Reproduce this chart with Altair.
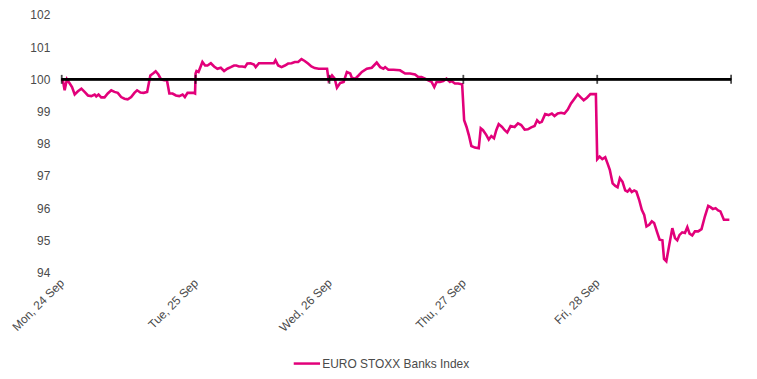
import altair as alt
import pandas as pd

SERIES = "EURO STOXX Banks Index"
day_labels = ["Mon, 24 Sep", "Tue, 25 Sep", "Wed, 26 Sep", "Thu, 27 Sep", "Fri, 28 Sep"]
y_ticks = [94, 95, 96, 97, 98, 99, 100, 101, 102]
day_ticks = [0, 1, 2, 3, 4, 5]

# time in trading days since Mon open, index value
mon_t = [0.0, 0.010, 0.022, 0.039, 0.060, 0.077, 0.097, 0.121, 0.147, 0.171, 0.196, 0.221, 0.246, 0.258,
         0.275, 0.295, 0.320, 0.344, 0.370, 0.394, 0.419, 0.444, 0.469, 0.493, 0.519, 0.543, 0.563, 0.588,
         0.612, 0.638, 0.662, 0.682, 0.702, 0.722, 0.742, 0.766, 0.786, 0.804, 0.828, 0.853, 0.878, 0.903,
         0.920, 0.940, 0.965, 0.984, 0.996]
mon_v = [100.0, 99.94, 99.66, 100.0, 99.87, 99.76, 99.53, 99.63, 99.71, 99.61, 99.50, 99.48, 99.53, 99.47,
         99.53, 99.44, 99.44, 99.56, 99.66, 99.61, 99.58, 99.45, 99.40, 99.38, 99.45, 99.58, 99.66, 99.59,
         99.58, 99.61, 100.12, 100.18, 100.25, 100.15, 100.00, 99.97, 99.97, 99.56, 99.56, 99.50, 99.48, 99.53,
         99.45, 99.58, 99.58, 99.58, 99.56]

tue_t = [1.0, 1.007, 1.022, 1.051, 1.071, 1.089, 1.114, 1.138, 1.163, 1.188, 1.213, 1.237, 1.263, 1.287,
         1.304, 1.324, 1.349, 1.369, 1.386, 1.411, 1.436, 1.449, 1.473, 1.498, 1.535, 1.560, 1.585, 1.597,
         1.617, 1.642, 1.667, 1.691, 1.717, 1.741, 1.766, 1.791, 1.815, 1.840, 1.865, 1.890, 1.920, 1.944,
         1.974, 1.982]
tue_v = [100.18, 100.26, 100.23, 100.54, 100.43, 100.43, 100.50, 100.40, 100.33, 100.36, 100.26, 100.33, 100.38, 100.43,
         100.43, 100.40, 100.40, 100.38, 100.49, 100.50, 100.46, 100.38, 100.50, 100.50, 100.50, 100.50, 100.50, 100.59,
         100.43, 100.38, 100.43, 100.49, 100.50, 100.54, 100.54, 100.63, 100.57, 100.49, 100.40, 100.35, 100.33, 100.33,
         100.33, 100.33]

wed_t = [1.994, 2.019, 2.039, 2.056, 2.081, 2.106, 2.130, 2.155, 2.167, 2.193, 2.217, 2.242, 2.279, 2.316,
         2.353, 2.379, 2.403, 2.416, 2.440, 2.478, 2.527, 2.565, 2.602, 2.639, 2.664, 2.688, 2.714, 2.738,
         2.763, 2.783, 2.800, 2.825, 2.850, 2.874, 2.900, 2.911, 2.937, 2.961, 2.986, 2.991]
wed_v = [99.97, 100.12, 100.02, 99.74, 99.89, 99.92, 100.23, 100.18, 100.05, 100.02, 100.12, 100.23, 100.33, 100.36,
         100.52, 100.38, 100.33, 100.38, 100.30, 100.30, 100.28, 100.18, 100.18, 100.15, 100.07, 100.07, 100.02, 99.97,
         99.92, 99.76, 99.92, 99.92, 99.95, 100.02, 99.92, 99.95, 99.87, 99.87, 99.85, 99.85]

thu_t = [3.006, 3.024, 3.041, 3.060, 3.086, 3.115, 3.130, 3.147, 3.172, 3.190, 3.209, 3.229, 3.246, 3.264,
         3.289, 3.309, 3.328, 3.353, 3.383, 3.408, 3.432, 3.458, 3.482, 3.507, 3.532, 3.551, 3.569, 3.586,
         3.611, 3.636, 3.661, 3.681, 3.705, 3.730, 3.755, 3.780, 3.804, 3.830, 3.854, 3.879, 3.899, 3.923,
         3.949, 3.973, 3.990]
thu_v = [98.73, 98.52, 98.27, 97.93, 97.88, 97.86, 98.48, 98.42, 98.27, 98.13, 98.24, 98.17, 98.42, 98.61,
         98.52, 98.42, 98.35, 98.55, 98.52, 98.63, 98.58, 98.44, 98.45, 98.51, 98.55, 98.73, 98.65, 98.68,
         98.92, 98.89, 98.94, 98.86, 98.94, 98.96, 98.94, 99.06, 99.25, 99.40, 99.54, 99.43, 99.35, 99.43,
         99.54, 99.54, 99.54]

fri_t = [4.0, 4.018, 4.038, 4.060, 4.077, 4.094, 4.115, 4.135, 4.152, 4.169, 4.189, 4.209, 4.226, 4.243,
         4.258, 4.276, 4.293, 4.313, 4.333, 4.351, 4.368, 4.388, 4.408, 4.425, 4.449, 4.466, 4.487, 4.499,
         4.516, 4.536, 4.561, 4.581, 4.598, 4.615, 4.635, 4.655, 4.673, 4.690, 4.710, 4.730, 4.754, 4.779,
         4.804, 4.829, 4.846, 4.864, 4.884, 4.903, 4.920, 4.946, 4.970, 4.987]
fri_v = [97.52, 97.60, 97.52, 97.58, 97.39, 97.19, 96.77, 96.69, 96.65, 96.93, 96.82, 96.55, 96.51, 96.59,
         96.50, 96.55, 96.51, 96.26, 95.95, 95.79, 95.43, 95.48, 95.59, 95.54, 95.23, 95.02, 95.00, 94.42,
         94.35, 94.81, 95.38, 95.07, 95.00, 95.17, 95.25, 95.23, 95.41, 95.21, 95.15, 95.28, 95.28, 95.35,
         95.74, 96.07, 96.03, 95.97, 96.00, 95.93, 95.90, 95.64, 95.64, 95.64]

t_all = mon_t + tue_t + wed_t + thu_t + fri_t
v_all = mon_v + tue_v + wed_v + thu_v + fri_v
df = pd.DataFrame({"t": t_all, "v": v_all, "series": SERIES})
ticks_df = pd.DataFrame({"t": day_ticks})

MAGENTA = "#E2007A"
FONT = "Liberation Sans"
TEXT = "#4a4a4a"
label_expr = "datum.value < 5 ? " + str(day_labels) + "[round(datum.value)] : ''"

x_scale = alt.Scale(domain=[0, 5], nice=False, zero=False)
y_scale = alt.Scale(domain=[94, 102], nice=False, zero=False)

x_axis = alt.Axis(values=[0, 1, 2, 3, 4], labelExpr=label_expr, labelAngle=-45,
                  labelAlign="right", labelBaseline="middle", domain=False, ticks=False,
                  tickSize=0, labelPadding=8, grid=False, title=None, labelFont=FONT,
                  labelFontSize=12, labelColor=TEXT, labelOverlap=False)
y_axis = alt.Axis(values=y_ticks, domain=False, ticks=False, tickSize=0, grid=False,
                  labelPadding=12, title=None, labelFont=FONT, labelFontSize=12,
                  labelColor=TEXT, labelOverlap=False)

line = alt.Chart(df).mark_line(strokeWidth=2.6, interpolate="linear").encode(
    x=alt.X("t:Q", scale=x_scale, axis=x_axis),
    y=alt.Y("v:Q", scale=y_scale, axis=y_axis),
    color=alt.Color("series:N", scale=alt.Scale(domain=[SERIES], range=[MAGENTA]),
                    legend=alt.Legend(title=None, orient="none", legendX=232, legendY=336,
                                      symbolType="stroke", symbolSize=700, symbolStrokeWidth=2.5,
                                      labelFont=FONT, labelFontSize=12, labelColor=TEXT,
                                      labelOffset=1)),
)

base_rule = alt.Chart(ticks_df).mark_rule(color="black", strokeWidth=2).encode(
    x=alt.datum(0, scale=x_scale, axis=x_axis), x2=alt.datum(5),
    y=alt.datum(100, scale=y_scale, axis=y_axis)
)

day_marks = alt.Chart(ticks_df).mark_tick(color="black", thickness=1.8, size=9, orient="vertical").encode(
    x=alt.X("t:Q", scale=x_scale, axis=x_axis), y=alt.datum(100, scale=y_scale, axis=y_axis)
)

chart = alt.layer(line, base_rule, day_marks).properties(
    width=673, height=259, background="white",
    padding={"top": 0, "left": 1, "right": 14, "bottom": 0},
).configure_view(stroke=None)

chart.save("out.html", embed_options={"renderer": "svg", "actions": False})
